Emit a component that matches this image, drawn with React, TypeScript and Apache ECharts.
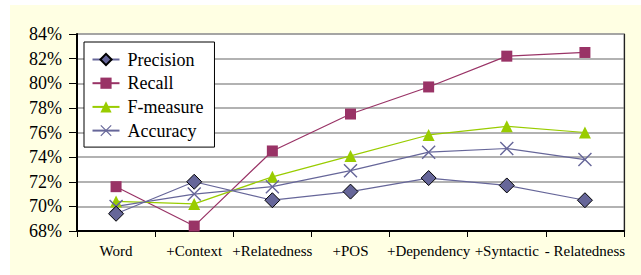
import React, { useEffect, useRef } from "react";
import * as echarts from "echarts";

const categories = ["Word", "+Context", "+Relatedness", "+POS", "+Dependency", "+Syntactic", "- Relatedness"];
const precision = [69.4, 72.0, 70.5, 71.2, 72.3, 71.7, 70.5];
const recall = [71.6, 68.4, 74.5, 77.5, 79.7, 82.2, 82.5];
const fMeasure = [70.4, 70.2, 72.4, 74.1, 75.8, 76.5, 76.0];
const accuracy = [70.0, 71.0, 71.6, 72.9, 74.4, 74.7, 73.8];

const FONT = "Liberation Serif, Times New Roman, serif";
const XSYM = "path://M0,1 L1,0 L7,6 L13,0 L14,1 L8,7 L14,13 L13,14 L7,8 L1,14 L0,13 L6,7 Z";

export default function App() {
  const ref = useRef<HTMLDivElement>(null);
  useEffect(() => {
    const chart = echarts.init(ref.current!, null, { renderer: "svg" });
    chart.setOption({
      animation: false,
      backgroundColor: "#ffffff",
      textStyle: { fontFamily: FONT },
      graphic: [
        { type: "rect", z: -10, silent: true, shape: { x: 10, y: 5, width: 631, height: 270 }, style: { fill: "#FFFFE3" } },
      ],
      grid: { left: 77, top: 34, width: 547, height: 197, show: true, backgroundColor: "#ffffff", borderColor: "#999999", borderWidth: 1 },
      legend: {
        orient: "vertical",
        left: 84,
        top: 42,
        backgroundColor: "#ffffff",
        borderColor: "#000000",
        borderWidth: 1,
        padding: [8.5, 11, 7.5, 7.5],
        itemWidth: 27,
        itemHeight: 14,
        itemGap: 5.7,
        textStyle: { fontFamily: FONT, fontSize: 18, lineHeight: 18, color: "#000", padding: [0, 0, 0, 3] },
        data: ["Precision", "Recall", "F-measure", "Accuracy"],
      },
      xAxis: {
        type: "category",
        data: categories,
        boundaryGap: true,
        axisLine: { lineStyle: { color: "#000", width: 2 } },
        axisTick: { show: true, length: 6, lineStyle: { color: "#000", width: 1 } },
        axisLabel: { fontFamily: FONT, fontSize: 15, lineHeight: 15, color: "#000", margin: 12, interval: 0 },
      },
      yAxis: [
        {
          type: "value",
          min: 68,
          max: 84,
          interval: 2,
          axisLine: { show: true, lineStyle: { color: "#000", width: 2 } },
          axisTick: { show: true, length: 8, lineStyle: { color: "#000", width: 1 } },
          axisLabel: { fontFamily: FONT, fontSize: 18, lineHeight: 18, color: "#000", margin: 15, formatter: (v: number) => v + "%" },
          splitLine: { show: true, lineStyle: { color: "#999999", width: 1.5 } },
        },
        {
          type: "value",
          position: "right",
          min: 68,
          max: 84,
          interval: 2,
          axisLine: { show: true, lineStyle: { color: "#222", width: 1.2 } },
          axisTick: { show: false },
          axisLabel: { show: false },
          splitLine: { show: false },
        },
      ],
      series: [
        {
          name: "Precision",
          type: "line",
          data: precision,
          z: 5,
          symbol: "diamond",
          symbolSize: 15,
          lineStyle: { color: "#666699", width: 1.2 },
          itemStyle: { color: "#666699", borderColor: "#000", borderWidth: 1 },
        },
        {
          name: "Recall",
          type: "line",
          data: recall,
          symbol: "rect",
          symbolSize: 11,
          lineStyle: { color: "#993366", width: 1.2 },
          itemStyle: { color: "#993366" },
        },
        {
          name: "F-measure",
          type: "line",
          data: fMeasure,
          symbol: "triangle",
          symbolSize: 12,
          lineStyle: { color: "#99CC00", width: 1.2 },
          itemStyle: { color: "#99CC00" },
        },
        {
          name: "Accuracy",
          type: "line",
          data: accuracy,
          symbol: XSYM,
          symbolSize: 14,
          lineStyle: { color: "#666699", width: 1.2 },
          itemStyle: { color: "#666699" },
        },
      ],
    });
    return () => chart.dispose();
  }, []);
  return <div ref={ref} style={{ position: "fixed", left: 0, top: 0, width: 641, height: 275 }} />;
}
